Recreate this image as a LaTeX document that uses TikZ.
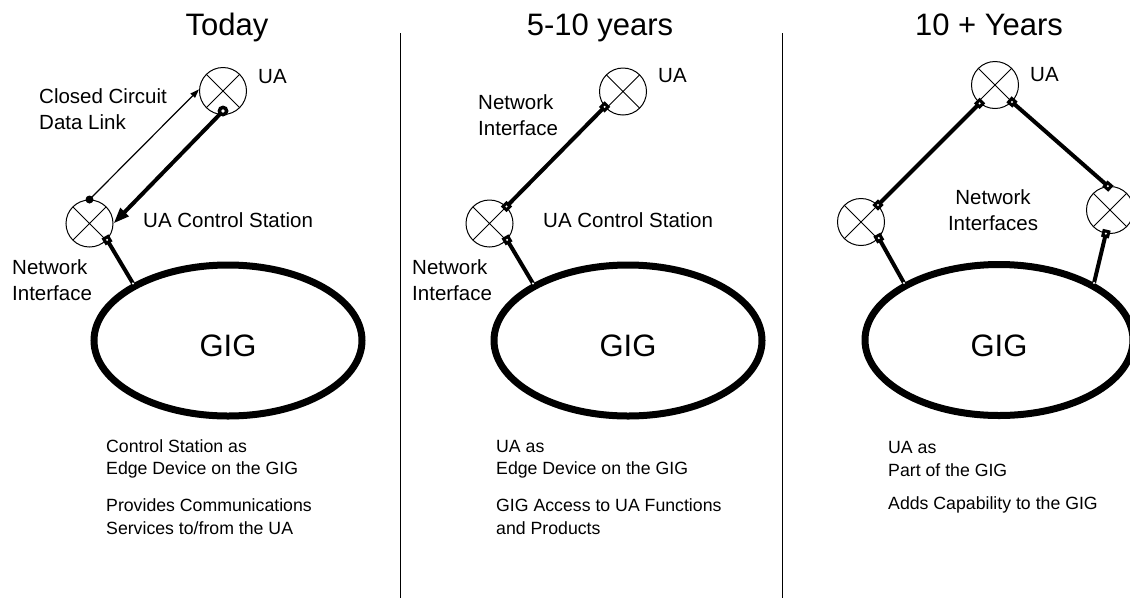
\documentclass[tikz,border=0pt]{standalone}
\usepackage{fontspec}
\setmainfont{Liberation Sans}
\usetikzlibrary{shapes.geometric,arrows.meta,calc}
\tikzset{
  dev/.style={circle, draw, line width=1pt, minimum size=47pt, inner sep=0pt,
    path picture={\draw[line width=0.8pt]
      (path picture bounding box.north west)--(path picture bounding box.south east)
      (path picture bounding box.north east)--(path picture bounding box.south west);}},
  gig/.style={ellipse, draw, line width=7pt, minimum width=268pt, minimum height=151pt,
    inner sep=0pt, font=\fontsize{31}{37}\selectfont, text height=33pt},
  ttl/.style={font=\fontsize{31}{37}\selectfont, anchor=base, inner sep=0pt},
  lbl/.style={font=\fontsize{20.5}{26}\selectfont, align=left, inner sep=0pt, anchor=west},
  desc/.style={font=\fontsize{17.7}{22.5}\selectfont, align=left, inner sep=0pt, anchor=west},
  link/.style={line width=4pt},
  sqm/.style={rectangle, fill=black, minimum size=8pt, inner sep=0pt, sloped},
  wdm/.style={diamond, fill=white, minimum size=4pt, inner sep=0pt},
  bdot/.style={circle, fill=black, inner sep=0pt},
  divider/.style={line width=1pt},
}
\begin{document}
\begin{tikzpicture}[x=1pt, y=-1pt]
\useasboundingbox (0,0) rectangle (1130,598);
\clip (0,0) rectangle (1130,598);

% dividers
\draw[divider] (400,33) -- (400,598);
\draw[divider] (782,33) -- (782,598);

% titles
\node[ttl] (t1) at (227,35) {Today};
\node[ttl] (t2) at (600,35) {5-10 years};
\node[ttl] (t3) at (989,35) {10 + Years};

% ---------- Panel 1 ----------
\node[dev] (ua1) at (223,91) {};
\node[dev] (cs1) at (89.5,223.5) {};
\node[gig] (gig1) at (228,340.5) {GIG};
\node[lbl] (ualbl1) at (258,77) {UA};
\node[lbl] (cclbl) at (39,109) {Closed Circuit\\Data Link};
\node[lbl] (cslbl1) at (143,220) {UA Control Station};
\node[lbl] (nilbl1) at (12,280.5) {Network\\Interface};
\node[desc] (d1a) at (106,459) {Control Station as\\Edge Device on the GIG};
\node[desc] (d1b) at (106,516.5) {Provides Communications\\Services to/from the UA};

\coordinate (uaport) at ($(ua1.center)+(0,20)$);
\draw[line width=1.2pt, -{Triangle[length=9pt,width=6pt]}] (cs1.north) -- (ua1.176)
  node[bdot, minimum size=8pt, pos=0] {};
\draw[link, -{Triangle[length=16pt,width=11pt]}] (uaport) -- (cs1.east);
\node[bdot, minimum size=11pt] at (uaport) {};
\node[wdm] at (uaport) {};
\draw[link] (cs1.-43) -- (gig1.149)
  node[sqm, pos=0] {} node[wdm, pos=0] {} node[wdm, pos=1] {};

% ---------- Panel 2 ----------
\node[dev] (ua2) at (623,91.5) {};
\node[dev] (cs2) at (489.5,223.5) {};
\node[gig] (gig2) at (628,340.5) {GIG};
\node[lbl] (ualbl2) at (658,76) {UA};
\node[lbl] (nilbl2a) at (478,115.5) {Network\\Interface};
\node[lbl] (cslbl2) at (543,220) {UA Control Station};
\node[lbl] (nilbl2b) at (412,280.5) {Network\\Interface};
\node[desc] (d2a) at (496,459) {UA as\\Edge Device on the GIG};
\node[desc] (d2b) at (496,516.5) {GIG Access to UA Functions\\and Products};

\draw[link] (ua2.-140) -- (cs2.45)
  node[sqm, pos=0] {} node[wdm, pos=0] {} node[sqm, pos=1] {} node[wdm, pos=1] {};
\draw[link] (cs2.-43) -- (gig2.149)
  node[sqm, pos=0] {} node[wdm, pos=0] {} node[wdm, pos=1] {};

% ---------- Panel 3 ----------
\node[dev] (ua3) at (995,85) {};
\node[dev] (l3) at (861,222) {};
\node[dev] (r3) at (1110,210) {};
\node[gig] (gig3) at (999,340) {GIG};
\node[lbl] (ualbl3) at (1030,75) {UA};
\node[lbl, align=center, anchor=center] (nilbl3) at (993,210) {Network\\Interfaces};
\node[desc] (d3a) at (888,459) {UA as\\Part of the GIG};
\node[desc] (d3b) at (888,505) {Adds Capability to the GIG};

\draw[link] (ua3.-130) -- (l3.45)
  node[sqm, pos=0] {} node[wdm, pos=0] {} node[sqm, pos=1] {} node[wdm, pos=1] {};
\draw[link] (ua3.-45) -- (r3.95)
  node[sqm, pos=0] {} node[wdm, pos=0] {} node[sqm, pos=1] {} node[wdm, pos=1] {};
\draw[link] (l3.-42) -- (gig3.149)
  node[sqm, pos=0] {} node[wdm, pos=0] {} node[wdm, pos=1] {};
\draw[link] (r3.-100) -- (gig3.31)
  node[sqm, pos=0] {} node[wdm, pos=0] {} node[wdm, pos=1] {};
\end{tikzpicture}
\end{document}
